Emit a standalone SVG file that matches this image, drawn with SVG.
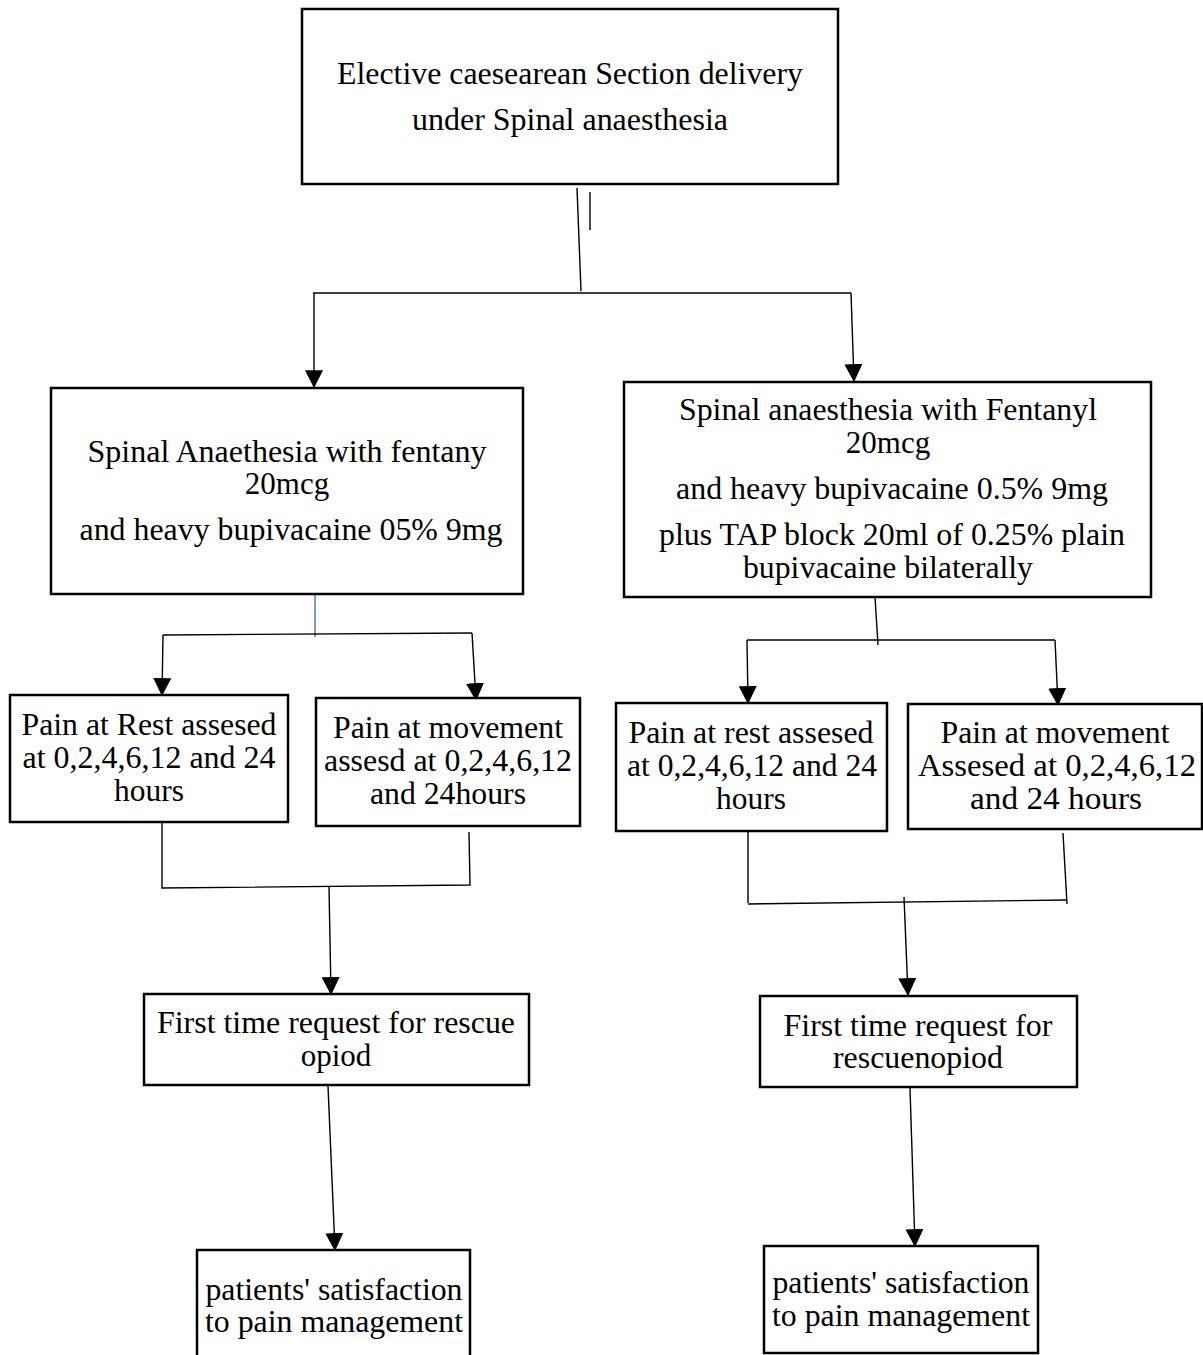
<svg xmlns="http://www.w3.org/2000/svg" width="1203" height="1355" viewBox="0 0 1203 1355">
<defs>
<style>
.box{fill:#fff;stroke:#000;stroke-width:2.5}
.t{font-size:31px;fill:#000;text-anchor:middle}
.c{fill:none;stroke:#000;stroke-width:1.4}
.blue{stroke:#4472c4}
</style>
<marker id="ah" markerUnits="userSpaceOnUse" markerWidth="18" markerHeight="18" viewBox="0 0 16 16" refX="15" refY="8" orient="auto">
<path d="M0,0 L16,8 L0,16 Z" fill="#000"/>
</marker>
</defs>
<rect width="1203" height="1355" fill="#fff"/>
<g id="connectors">
<line class="c" x1="577" y1="188" x2="581" y2="291"/>
<line class="c" x1="590" y1="192" x2="590" y2="230"/>
<line class="c" x1="313" y1="293" x2="851" y2="293"/>
<line class="c" x1="314" y1="293" x2="314" y2="387" marker-end="url(#ah)"/>
<line class="c" x1="851" y1="293" x2="854" y2="381" marker-end="url(#ah)"/>
<line class="c blue" x1="315" y1="594" x2="315" y2="637"/>
<line class="c" x1="163" y1="635" x2="472" y2="633"/>
<line class="c" x1="163" y1="635" x2="162" y2="695" marker-end="url(#ah)"/>
<line class="c" x1="472" y1="633" x2="476" y2="700" marker-end="url(#ah)"/>
<line class="c" x1="875" y1="597" x2="878" y2="645"/>
<line class="c" x1="747" y1="640" x2="1055" y2="640"/>
<line class="c" x1="747" y1="640" x2="748" y2="703" marker-end="url(#ah)"/>
<line class="c" x1="1055" y1="640" x2="1058" y2="705" marker-end="url(#ah)"/>
<polyline class="c" points="162,818 162,888 470,885 469,832"/>
<line class="c" x1="329" y1="887" x2="331" y2="994" marker-end="url(#ah)"/>
<line class="c" x1="748" y1="831" x2="748" y2="903"/>
<line class="c" x1="748" y1="904" x2="1067" y2="900"/>
<line class="c" x1="1063" y1="833" x2="1067" y2="904"/>
<line class="c" x1="904" y1="897" x2="908" y2="995" marker-end="url(#ah)"/>
<line class="c" x1="328" y1="1086" x2="335" y2="1250" marker-end="url(#ah)"/>
<line class="c" x1="910" y1="1088" x2="915" y2="1246" marker-end="url(#ah)"/>
</g>
<g style="font-family:'Liberation Serif','Times New Roman',serif">
<g id="n-start">
<rect class="box" x="302" y="9" width="536" height="175"/>
<text class="t" x="570" y="84" textLength="466" lengthAdjust="spacingAndGlyphs">Elective caesearean Section delivery</text>
<text class="t" x="570" y="130" textLength="316" lengthAdjust="spacingAndGlyphs">under Spinal anaesthesia</text>
</g>
<g id="n-left">
<rect class="box" x="51" y="388" width="472" height="206"/>
<text class="t" x="287" y="462" textLength="399" lengthAdjust="spacingAndGlyphs">Spinal Anaethesia with fentany</text>
<text class="t" x="287" y="494">20mcg</text>
<text class="t" x="291" y="540" textLength="423" lengthAdjust="spacingAndGlyphs">and heavy bupivacaine 05%  9mg</text>
</g>
<g id="n-right">
<rect class="box" x="624" y="382" width="527" height="215"/>
<text class="t" x="888" y="420" textLength="418" lengthAdjust="spacingAndGlyphs">Spinal anaesthesia with Fentanyl</text>
<text class="t" x="888" y="453">20mcg</text>
<text class="t" x="892" y="499" textLength="432" lengthAdjust="spacingAndGlyphs">and heavy bupivacaine 0.5%  9mg</text>
<text class="t" x="892" y="545" textLength="466" lengthAdjust="spacingAndGlyphs">plus TAP block 20ml of 0.25% plain</text>
<text class="t" x="888" y="578" textLength="290" lengthAdjust="spacingAndGlyphs">bupivacaine bilaterally</text>
</g>
<g id="n-l-rest">
<rect class="box" x="10" y="695" width="278" height="127"/>
<text class="t" x="149" y="735" textLength="255" lengthAdjust="spacingAndGlyphs">Pain at Rest assesed</text>
<text class="t" x="149" y="768" textLength="253" lengthAdjust="spacingAndGlyphs">at 0,2,4,6,12 and 24</text>
<text class="t" x="149" y="801" textLength="70" lengthAdjust="spacingAndGlyphs">hours</text>
</g>
<g id="n-l-move">
<rect class="box" x="316" y="698" width="264" height="128"/>
<text class="t" x="448" y="738" textLength="230" lengthAdjust="spacingAndGlyphs">Pain at movement</text>
<text class="t" x="448" y="771" textLength="248" lengthAdjust="spacingAndGlyphs">assesd at 0,2,4,6,12</text>
<text class="t" x="448" y="804" textLength="156" lengthAdjust="spacingAndGlyphs">and 24hours</text>
</g>
<g id="n-r-rest">
<rect class="box" x="616" y="703" width="271" height="128"/>
<text class="t" x="751" y="743" textLength="245" lengthAdjust="spacingAndGlyphs">Pain at rest assesed</text>
<text class="t" x="752" y="776" textLength="250" lengthAdjust="spacingAndGlyphs">at 0,2,4,6,12 and 24</text>
<text class="t" x="751" y="809" textLength="70" lengthAdjust="spacingAndGlyphs">hours</text>
</g>
<g id="n-r-move">
<rect class="box" x="908" y="704" width="294" height="125"/>
<text class="t" x="1055" y="743" textLength="229" lengthAdjust="spacingAndGlyphs">Pain at movement</text>
<text class="t" x="1057" y="776" textLength="278" lengthAdjust="spacingAndGlyphs">Assesed at  0,2,4,6,12</text>
<text class="t" x="1056" y="809" textLength="172" lengthAdjust="spacingAndGlyphs">and  24 hours</text>
</g>
<g id="n-l-rescue">
<rect class="box" x="144" y="994" width="385" height="91"/>
<text class="t" x="336" y="1033" textLength="358" lengthAdjust="spacingAndGlyphs">First time request for rescue</text>
<text class="t" x="336" y="1066">opiod</text>
</g>
<g id="n-r-rescue">
<rect class="box" x="760" y="996" width="317" height="91"/>
<text class="t" x="918" y="1036" textLength="269" lengthAdjust="spacingAndGlyphs">First time request for</text>
<text class="t" x="918" y="1068" textLength="170" lengthAdjust="spacingAndGlyphs">rescuenopiod</text>
</g>
<g id="n-l-sat">
<rect class="box" x="197" y="1250" width="273" height="110"/>
<text class="t" x="334" y="1300" textLength="257" lengthAdjust="spacingAndGlyphs">patients' satisfaction</text>
<text class="t" x="334" y="1332" textLength="258" lengthAdjust="spacingAndGlyphs">to pain management</text>
</g>
<g id="n-r-sat">
<rect class="box" x="764" y="1246" width="274" height="107"/>
<text class="t" x="901" y="1293" textLength="257" lengthAdjust="spacingAndGlyphs">patients' satisfaction</text>
<text class="t" x="901" y="1326" textLength="258" lengthAdjust="spacingAndGlyphs">to pain management</text>
</g>
</g>
</svg>
